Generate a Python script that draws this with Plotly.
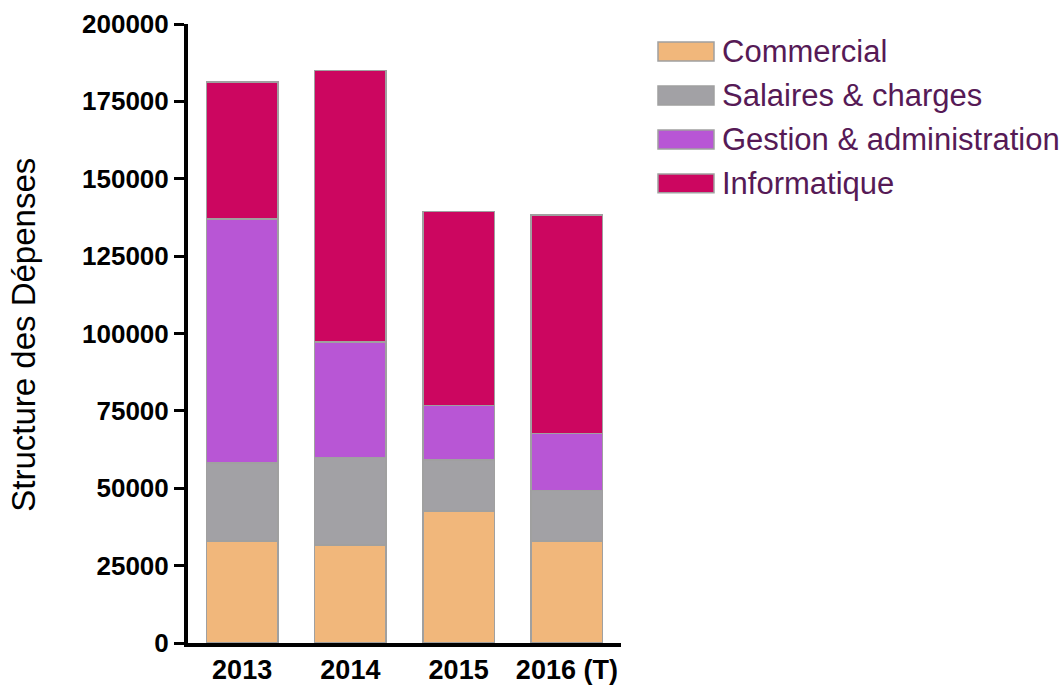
import plotly.graph_objects as go

# ---- data ----
years = ["2013", "2014", "2015", "2016 (T)"]
series_names = ["Commercial", "Salaires & charges", "Gestion & administration", "Informatique"]
commercial = [32900, 31700, 42700, 32900]
salaires = [25200, 28200, 16500, 16400]
gestion = [78900, 37300, 17600, 18400]
informatique = [44200, 87700, 62600, 70600]
y_ticks = [0, 25000, 50000, 75000, 100000, 125000, 150000, 175000, 200000]

colors = ["#F1B77B", "#A2A1A5", "#B856D5", "#CC0660"]
series_values = [commercial, salaires, gestion, informatique]

W, H = 1061, 686
# plot-area edges in page pixels
L, R, T, B = 188, 621, 24, 643.5

FONT = "Arial, 'Liberation Sans', sans-serif"

fig = go.Figure()
for name, vals, col in zip(series_names, series_values, colors):
    fig.add_trace(go.Bar(
        x=years, y=vals, name=name,
        marker=dict(color=col, line=dict(color="#A0A0A0", width=1.5)),
        showlegend=False,
    ))

def px2x(px):
    return (px - L) / (R - L)

def py2y(py):
    return (B - py) / (B - T)

shapes = []
annotations = []
row0, step = 51.5, 44
for i, (name, col) in enumerate(zip(series_names, colors)):
    cy = row0 + i * step
    shapes.append(dict(
        type="rect", xref="paper", yref="paper",
        x0=px2x(658), x1=px2x(714), y0=py2y(cy - 9.5), y1=py2y(cy + 9.5),
        fillcolor=col, line=dict(color="#A0A0A0", width=1.5),
    ))
    annotations.append(dict(
        xref="paper", yref="paper", x=px2x(720), y=py2y(cy),
        xanchor="left", yanchor="middle", text=name, showarrow=False,
        font=dict(family=FONT, size=31, color="#561A56"),
    ))

annotations.append(dict(
    xref="paper", yref="paper", x=px2x(24), y=py2y(335),
    xanchor="center", yanchor="middle", text="Structure des Dépenses",
    textangle=-90, showarrow=False,
    font=dict(family=FONT, size=33, color="#000000"),
))

fig.update_layout(
    width=W, height=H,
    margin=dict(l=L, r=W - R, t=T, b=H - B, autoexpand=False),
    barmode="stack", bargap=0.34,
    plot_bgcolor="white", paper_bgcolor="white",
    font=dict(family=FONT, color="#000000"),
    shapes=shapes, annotations=annotations,
    xaxis=dict(
        range=[-0.5, 3.5], showline=True, linecolor="#000000", linewidth=4,
        ticks="", showgrid=False, zeroline=False,
        tickfont=dict(family=FONT, size=27, color="#000000", weight="bold"),
        automargin=False,
    ),
    yaxis=dict(
        range=[0, 200000], tickvals=y_ticks, ticktext=[str(v) for v in y_ticks],
        showline=True, linecolor="#000000", linewidth=4,
        ticks="outside", ticklen=10, tickwidth=3, tickcolor="#000000",
        showgrid=False, zeroline=False,
        tickfont=dict(family=FONT, size=26, color="#000000", weight="bold"),
        automargin=False,
    ),
)

fig.write_html(
    "out.html",
    config={"displayModeBar": False},
    post_script="document.body.style.margin='0';document.body.style.overflow='hidden';",
)
